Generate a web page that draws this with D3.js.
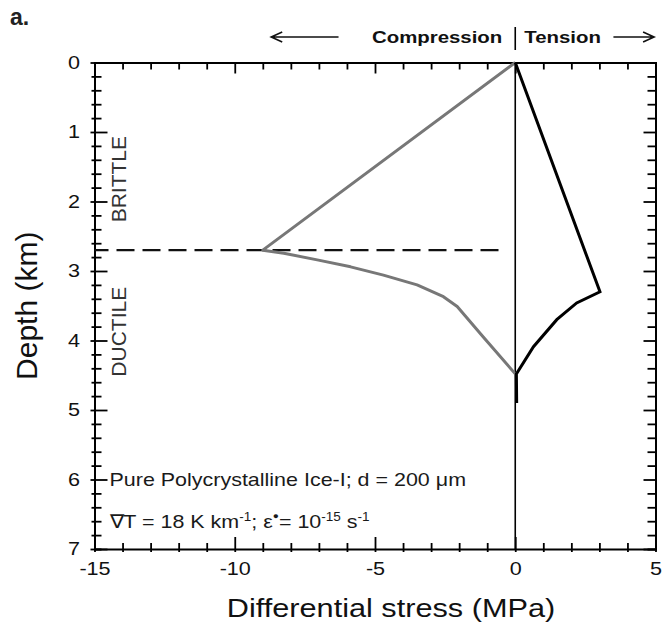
<!DOCTYPE html>
<html>
<head>
<meta charset="utf-8">
<script src="https://cdn.jsdelivr.net/npm/d3@7"></script>
<style>
  html, body { margin: 0; padding: 0; background: #fff; }
  svg { display: block; font-family: "Liberation Sans", Arial, Helvetica, sans-serif; }
</style>
</head>
<body>
<svg id="chart" width="664" height="626"></svg>
<script>
// Differential stress envelope of pure polycrystalline ice-I with depth.

// Compression branch (negative stress): brittle line, then ductile flow curve
const compStress = [0, -9.0, -8.25, -7.06, -5.87, -4.70, -3.50, -2.56, -2.07, -1.14, 0];
const compDepth  = [0, 2.70, 2.745, 2.84, 2.94, 3.06, 3.20, 3.37, 3.51, 3.95, 4.48];

// Tension branch (positive stress)
const tensStress = [0, 3.02, 2.19, 1.48, 0.65, 0.04, 0.05];
const tensDepth  = [0, 3.30, 3.46, 3.70, 4.09, 4.48, 4.90];

// Brittle–ductile transition depth (km) and extent of its marker line (MPa)
const transitionDepth = 2.70;
const transitionStress = [-15, -0.5];

// Axis domains and labelled ticks
const stressDomain = [-15, 5];
const depthDomain = [0, 7];
const stressTicks = d3.range(-15, 6, 1);
const stressLabels = [-15, -10, -5, 0, 5];
const depthTicks = d3.range(0, 36).map(i => i / 5);
const depthLabels = [0, 1, 2, 3, 4, 5, 6, 7];

const svg = d3.select("#chart");
const x = d3.scaleLinear().domain(stressDomain).range([94.5, 655.5]);
const y = d3.scaleLinear().domain(depthDomain).range([62.5, 549]);

const isInt = v => Math.abs(v - Math.round(v)) < 1e-9;
const fmt = v => (v < 0 ? "-" + Math.abs(v) : String(v));
const SX = 1.2; // horizontal stretch of the typeface

// ----- axes -----
const axisStyle = g => {
  g.select(".domain").attr("stroke", "#000").attr("stroke-width", 2);
  g.selectAll(".tick line").attr("stroke", "#000").attr("stroke-width", 1.8);
  g.selectAll(".tick text").attr("fill", "#111").attr("font-size", 18);
};

// bottom
const gb = svg.append("g").attr("transform", `translate(0,${y(7)})`)
  .call(d3.axisBottom(x).tickValues(stressTicks).tickSizeOuter(0).tickSize(-6).tickPadding(13)
    .tickFormat(d => stressLabels.includes(d) ? fmt(d) : ""))
  .call(axisStyle);
gb.selectAll(".tick line").attr("y1", 3).attr("y2", d => d % 5 === 0 ? -12 : -6);
gb.selectAll(".tick text").attr("transform", `scale(${SX},1)`);

// top
const gt = svg.append("g").attr("transform", `translate(0,${y(0)})`)
  .call(d3.axisTop(x).tickValues(stressTicks).tickSizeOuter(0).tickSize(-7).tickFormat(""))
  .call(axisStyle);
gt.selectAll(".tick line").attr("y2", d => d % 5 === 0 ? 11 : 7);

// left
const gl = svg.append("g").attr("transform", `translate(${x(-15)},0)`)
  .call(d3.axisLeft(y).tickValues(depthTicks).tickSizeOuter(0).tickSize(-7).tickPadding(12)
    .tickFormat(d => isInt(d) && depthLabels.includes(Math.round(d)) ? String(Math.round(d)) : ""))
  .call(axisStyle);
gl.selectAll(".tick line").attr("x1", d => isInt(d) ? -4 : -3).attr("x2", d => isInt(d) ? 13 : 7);
gl.selectAll(".tick text").attr("transform", `scale(${SX},1)`);

// right
const gr = svg.append("g").attr("transform", `translate(${x(5)},0)`)
  .call(d3.axisRight(y).tickValues(depthTicks).tickSizeOuter(0).tickSize(-8).tickFormat(""))
  .call(axisStyle);
gr.selectAll(".tick line").attr("x2", d => isInt(d) ? -12 : -8);

// zero-stress line
svg.append("line")
  .attr("x1", x(0)).attr("x2", x(0)).attr("y1", y(0)).attr("y2", y(7))
  .attr("stroke", "#000").attr("stroke-width", 1.6);

// brittle–ductile transition
svg.append("line")
  .attr("x1", x(transitionStress[0])).attr("x2", x(transitionStress[1]))
  .attr("y1", y(transitionDepth)).attr("y2", y(transitionDepth))
  .attr("stroke", "#111").attr("stroke-width", 2.2)
  .attr("stroke-dasharray", "18,8").attr("stroke-dashoffset", 4);

// ----- curves -----
const line = d3.line().x(d => x(d[0])).y(d => y(d[1]));
svg.append("path")
  .datum(d3.zip(compStress, compDepth))
  .attr("d", line).attr("fill", "none")
  .attr("stroke", "#777").attr("stroke-width", 3).attr("stroke-linejoin", "round");
svg.append("path")
  .datum(d3.zip(tensStress, tensDepth))
  .attr("d", line).attr("fill", "none")
  .attr("stroke", "#000").attr("stroke-width", 3).attr("stroke-linejoin", "miter");

// ----- regime labels -----
const regime = (label, depthStart) => svg.append("text")
  .attr("transform", `translate(${x(-15) + 31},${y(depthStart)}) rotate(-90)`)
  .attr("font-size", 21).attr("fill", "#333").text(label);
regime("BRITTLE", 2.30);
regime("DUCTILE", 4.52);

// ----- annotation -----
const note = svg.append("g").attr("fill", "#1a1a1a");
note.append("text")
  .attr("transform", `translate(${x(-15) + 15},${y(6.1)}) scale(1.13,1)`)
  .attr("font-size", 19)
  .text("Pure Polycrystalline Ice-I; d = 200 \u03bcm");
const l2 = note.append("text")
  .attr("transform", `translate(${x(-15) + 15},${y(6.7)}) scale(1.13,1)`)
  .attr("font-size", 19);
l2.append("tspan").text("\u2207T = 18 K km");
l2.append("tspan").attr("dy", -7).attr("font-size", 12).text("-1");
l2.append("tspan").attr("dy", 7).text("; \u03b5");
l2.append("tspan").attr("dy", -9).attr("font-size", 9).text("\u25cf");
l2.append("tspan").attr("dy", 9).text("= 10");
l2.append("tspan").attr("dy", -7).attr("font-size", 12).text("-15");
l2.append("tspan").attr("dy", 7).text(" s");
l2.append("tspan").attr("dy", -7).attr("font-size", 12).text("-1");

// ----- titles -----
svg.append("text")
  .attr("transform", `translate(${(x(-15) + x(5)) / 2 + 16},617) scale(1.18,1)`)
  .attr("text-anchor", "middle").attr("font-size", 26).attr("fill", "#111")
  .text("Differential stress (MPa)");
svg.append("text")
  .attr("transform", `translate(37,${y(3.5)}) rotate(-90)`)
  .attr("text-anchor", "middle").attr("font-size", 30).attr("fill", "#111")
  .text("Depth (km)");
svg.append("text")
  .attr("x", 10).attr("y", 25).attr("font-size", 23).attr("font-weight", "bold").attr("fill", "#222")
  .text("a.");

// ----- direction header -----
const head = svg.append("g").attr("fill", "#111").attr("font-weight", "bold").attr("font-size", 17);
head.append("text").attr("transform", `translate(${x(0) - 13},43) scale(${SX},1)`)
  .attr("text-anchor", "end").text("Compression");
head.append("text").attr("transform", `translate(${x(0) + 9},43) scale(${SX},1)`)
  .text("Tension");
svg.append("line").attr("x1", x(0)).attr("x2", x(0)).attr("y1", 27).attr("y2", 50)
  .attr("stroke", "#000").attr("stroke-width", 1.6);
// arrow from (x1) with its head at (x2)
const arrow = (x1, x2) => {
  const dir = Math.sign(x2 - x1);
  svg.append("path")
    .attr("d", `M${x1},37H${x2}M${x2 - dir * 11},32L${x2},37L${x2 - dir * 11},42`)
    .attr("fill", "none").attr("stroke", "#111").attr("stroke-width", 1.6);
};
arrow(x(-6.3), x(-8.7));
arrow(x(3.5), x(4.95));
</script>
</body>
</html>
